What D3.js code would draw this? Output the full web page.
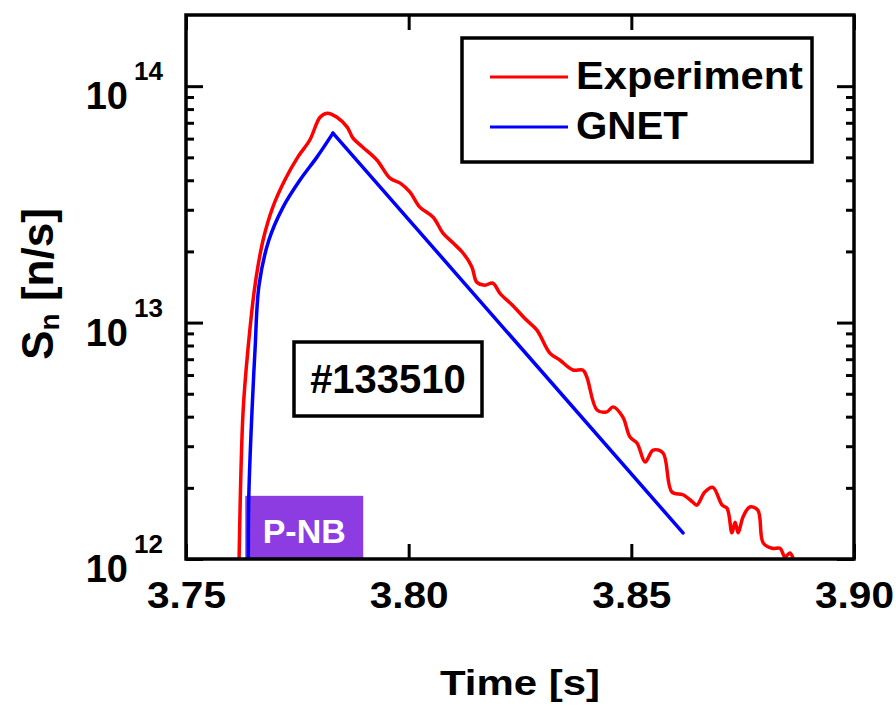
<!DOCTYPE html>
<html>
<head>
<meta charset="utf-8">
<script src="https://cdn.jsdelivr.net/npm/d3@7"></script>
<style>
  body { margin: 0; background: #fff; }
  text { font-family: "Liberation Sans", Arial, sans-serif; font-weight: bold; }
</style>
</head>
<body>
<div id="chart"></div>
<script>
// data
const expTime = [3.7619, 3.7628, 3.7639, 3.7655, 3.7673, 3.7695, 3.7722, 3.7751, 3.7778, 3.7801, 3.7817, 3.7839, 3.7862, 3.7875, 3.7897,
  3.7929, 3.7958, 3.7981, 3.8003, 3.8025, 3.8055, 3.8077, 3.8100, 3.8122, 3.8142, 3.8153, 3.8171, 3.8189, 3.8205, 3.8232,
  3.8261, 3.8288, 3.8317, 3.8340, 3.8369, 3.8391, 3.8400, 3.8423, 3.8445, 3.8459, 3.8481, 3.8497, 3.8513, 3.8531, 3.8549,
  3.8571, 3.8591, 3.8616, 3.8638, 3.8647, 3.8665, 3.8683, 3.8704, 3.8715, 3.8726, 3.8733, 3.8740, 3.8751, 3.8766, 3.8784,
  3.8796, 3.8816, 3.8834, 3.8845, 3.8856, 3.8863];
const expSn = [0.95e12, 4.14e12, 7.66e12, 1.44e13, 2.23e13, 3.08e13, 4.01e13, 5.01e13, 5.92e13, 7.39e13, 7.69e13, 7.39e13, 6.71e13, 6.03e13, 5.52e13,
  4.86e13, 4.08e13, 3.89e13, 3.56e13, 3.08e13, 2.79e13, 2.39e13, 2.17e13, 1.97e13, 1.72e13, 1.48e13, 1.44e13, 1.47e13, 1.33e13, 1.19e13,
  1.04e13, 9.29e12, 7.43e12, 6.93e12, 6.30e12, 6.30e12, 5.89e12, 4.27e12, 4.19e12, 4.40e12, 3.98e12, 3.28e12, 3.09e12, 2.57e12, 2.89e12,
  2.81e12, 1.92e12, 1.87e12, 1.74e12, 1.69e12, 1.92e12, 2.01e12, 1.69e12, 1.64e12, 1.29e12, 1.43e12, 1.29e12, 1.51e12, 1.66e12, 1.61e12,
  1.17e12, 1.11e12, 1.11e12, 1.02e12, 1.06e12, 1.01e12];

const gnetTime = [3.7640, 3.7641, 3.7648, 3.7655, 3.7664, 3.7686, 3.7718, 3.7756, 3.7794, 3.7830, 3.8616];
const gnetSn = [0.95e12, 1.83e12, 4.14e12, 7.66e12, 1.44e13, 2.23e13, 3.08e13, 4.01e13, 5.01e13, 6.33e13, 1.29e12];

const nbWindow = [3.7633, 3.7898];   // P-NB injection
const nbTop = 1.85e12;

const xTicks = [3.75, 3.80, 3.85, 3.90];
const yDecades = [12, 13, 14];
const shotLabel = "#133510";

const width = 896;
const height = 708;

const svg = d3.select("#chart")
  .append("svg")
    .attr("width", width)
    .attr("height", height);

const x = d3.scaleLinear().domain([3.75, 3.90]).range([186, 854]);
const y = d3.scaleLog().domain([1e12, 2e14]).range([559, 15]);

svg.append("clipPath").attr("id", "plotclip")
  .append("rect")
    .attr("x", x.range()[0]).attr("y", y.range()[1])
    .attr("width", x.range()[1] - x.range()[0])
    .attr("height", y.range()[0] - y.range()[1]);

// P-NB bar
svg.append("rect")
  .attr("x", x(nbWindow[0]))
  .attr("y", y(nbTop))
  .attr("width", x(nbWindow[1]) - x(nbWindow[0]))
  .attr("height", y(1e12) - y(nbTop))
  .attr("fill", "#8c3ce0");
svg.append("text")
  .attr("x", (x(nbWindow[0]) + x(nbWindow[1])) / 2)
  .attr("y", 543)
  .attr("text-anchor", "middle")
  .attr("fill", "#fff")
  .style("font-size", "34px")
  .text("P-NB");

const smooth = d3.line()
  .curve(d3.curveCatmullRom.alpha(0.5))
  .x(d => x(d[0]))
  .y(d => y(d[1]));
const straight = d3.line()
  .x(d => x(d[0]))
  .y(d => y(d[1]));

const plot = svg.append("g").attr("clip-path", "url(#plotclip)");

// GNET: smooth rise, straight exponential decay after the peak
const gnet = d3.zip(gnetTime, gnetSn);
const peak = d3.maxIndex(gnetSn);
[[gnet.slice(0, peak + 1), smooth], [gnet.slice(peak), straight]].forEach(([pts, gen]) => {
  plot.append("path")
    .datum(pts)
    .attr("d", gen)
    .attr("fill", "none")
    .attr("stroke", "#0000ff")
    .attr("stroke-width", 3.5)
    .attr("stroke-linejoin", "round")
    .attr("stroke-linecap", "round");
});

plot.append("path")
  .datum(d3.zip(expTime, expSn))
  .attr("d", smooth)
  .attr("fill", "none")
  .attr("stroke", "#ff0000")
  .attr("stroke-width", 3.5)
  .attr("stroke-linejoin", "round");

// axes (ticks point inward)
const minorTicks = [];
yDecades.forEach(e => {
  for (let k = 2; k <= 9; k++) {
    const v = k * Math.pow(10, e);
    if (v < y.domain()[1]) minorTicks.push(v);
  }
});
const majorTicks = yDecades.map(e => Math.pow(10, e));

function styleAxis(g) {
  g.select(".domain").remove();
  g.selectAll(".tick line").attr("stroke", "#000").attr("stroke-width", 3);
}

const xBottom = svg.append("g")
  .attr("transform", "translate(0," + y.range()[0] + ")")
  .call(d3.axisBottom(x).tickValues(xTicks).tickSizeInner(-15).tickSizeOuter(0).tickFormat(d3.format(".2f")))
  .call(styleAxis);
xBottom.selectAll(".tick text")
  .attr("y", 49).attr("dy", null)
  .attr("fill", "#000")
  .attr("font-family", null).attr("font-size", null)
  .style("font-size", "36px")
  .attr("textLength", 79).attr("lengthAdjust", "spacingAndGlyphs");

svg.append("g")
  .attr("transform", "translate(0," + y.range()[1] + ")")
  .call(d3.axisTop(x).tickValues(xTicks).tickSizeInner(-15).tickSizeOuter(0).tickFormat(""))
  .call(styleAxis);

svg.append("g")
  .attr("transform", "translate(" + x.range()[0] + ",0)")
  .call(d3.axisLeft(y).tickValues(minorTicks).tickSizeInner(-8).tickSizeOuter(0).tickFormat(""))
  .call(styleAxis);
svg.append("g")
  .attr("transform", "translate(" + x.range()[0] + ",0)")
  .call(d3.axisLeft(y).tickValues(majorTicks).tickSizeInner(-17).tickSizeOuter(0).tickFormat(""))
  .call(styleAxis);
svg.append("g")
  .attr("transform", "translate(" + x.range()[1] + ",0)")
  .call(d3.axisRight(y).tickValues(minorTicks).tickSizeInner(-8).tickSizeOuter(0).tickFormat(""))
  .call(styleAxis);
svg.append("g")
  .attr("transform", "translate(" + x.range()[1] + ",0)")
  .call(d3.axisRight(y).tickValues(majorTicks).tickSizeInner(-17).tickSizeOuter(0).tickFormat(""))
  .call(styleAxis);

// y tick labels 10^n
const yLab = svg.append("g");
yLab.selectAll(".base")
  .data(yDecades)
  .enter().append("text")
    .attr("x", 128)
    .attr("y", d => y(Math.pow(10, d)) + 23)
    .attr("text-anchor", "end")
    .style("font-size", "38px")
    .text("10");
yLab.selectAll(".exp")
  .data(yDecades)
  .enter().append("text")
    .attr("x", 134)
    .attr("y", d => y(Math.pow(10, d)) - 6)
    .style("font-size", "26px")
    .text(d => d);

// frame
svg.append("rect")
  .attr("x", x.range()[0]).attr("y", y.range()[1])
  .attr("width", x.range()[1] - x.range()[0])
  .attr("height", y.range()[0] - y.range()[1])
  .attr("fill", "none")
  .attr("stroke", "#000")
  .attr("stroke-width", 3.5);

// axis titles
svg.append("text")
  .attr("x", (x.range()[0] + x.range()[1]) / 2)
  .attr("y", 695)
  .attr("text-anchor", "middle")
  .style("font-size", "35px")
  .attr("textLength", 160).attr("lengthAdjust", "spacingAndGlyphs")
  .text("Time [s]");

const yTitle = svg.append("text")
  .attr("transform", "translate(53,284) rotate(-90)")
  .attr("text-anchor", "middle")
  .style("font-size", "44px");
yTitle.append("tspan").text("S");
yTitle.append("tspan").style("font-size", "28px").attr("dy", 6).text("n");
yTitle.append("tspan").attr("dy", -6).text(" [n/s]");

// legend
svg.append("rect")
  .attr("x", 462).attr("y", 38).attr("width", 350).attr("height", 124)
  .attr("fill", "#fff").attr("stroke", "#000").attr("stroke-width", 3.5);
const legendItems = [
  {name: "Experiment", color: "#ff0000", len: 227},
  {name: "GNET", color: "#0000ff", len: 112}
];
legendItems.forEach((d, i) => {
  const yy = 77 + i * 50;
  svg.append("line")
    .attr("x1", 490).attr("x2", 568).attr("y1", yy).attr("y2", yy)
    .attr("stroke", d.color).attr("stroke-width", 3);
  svg.append("text")
    .attr("x", 576).attr("y", yy + 12)
    .style("font-size", "38px")
    .attr("textLength", d.len).attr("lengthAdjust", "spacingAndGlyphs")
    .text(d.name);
});

// shot number box
svg.append("rect")
  .attr("x", 294).attr("y", 342).attr("width", 188).attr("height", 74)
  .attr("fill", "#fff").attr("stroke", "#000").attr("stroke-width", 3.5);
svg.append("text")
  .attr("x", 388).attr("y", 393)
  .attr("text-anchor", "middle")
  .style("font-size", "40px")
  .text(shotLabel);
</script>
</body>
</html>
